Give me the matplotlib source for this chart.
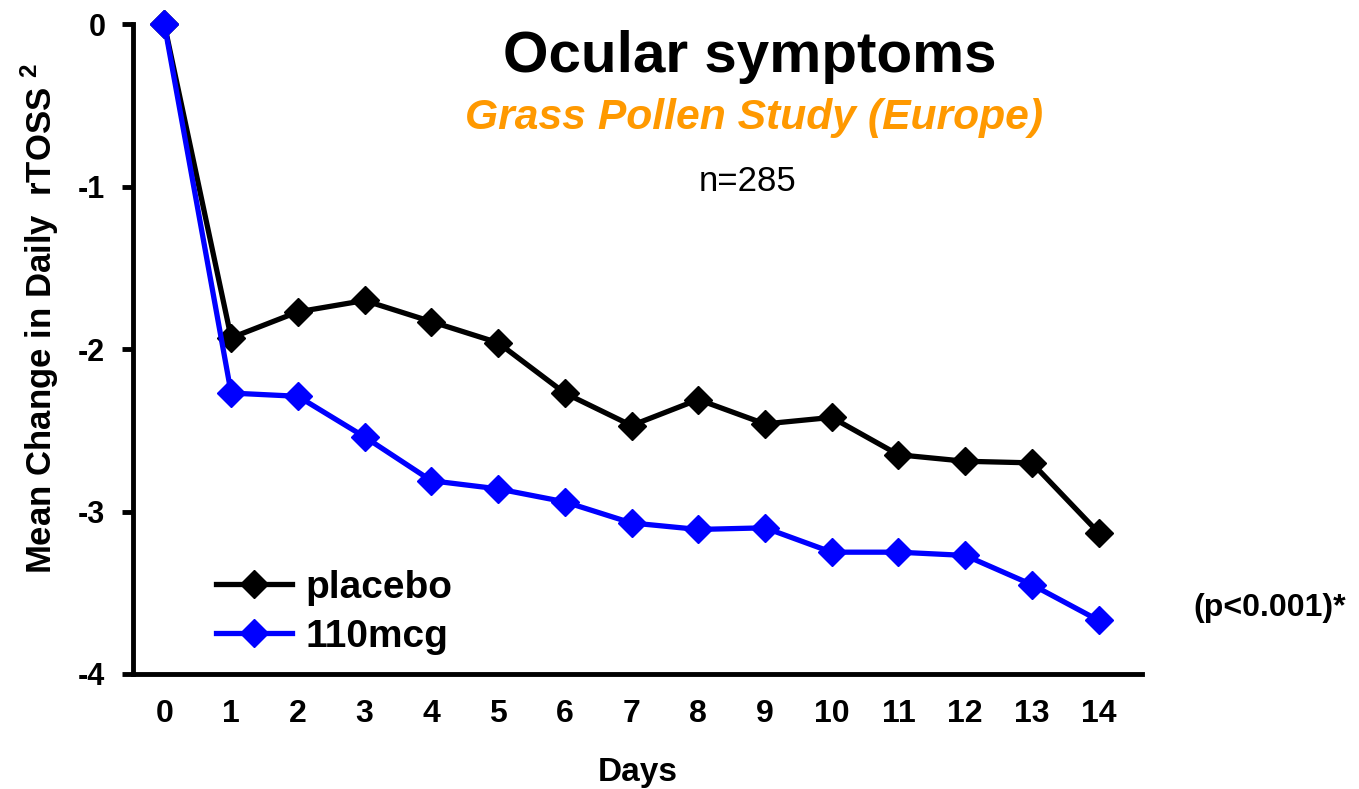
"""Ocular symptoms: mean change in daily rTOSS, grass pollen study (Europe)."""

import matplotlib

matplotlib.use("Agg")

import matplotlib.pyplot as plt

DAYS = list(range(15))
PLACEBO = [0, -1.93, -1.77, -1.70, -1.83, -1.96, -2.27, -2.47, -2.31, -2.46,
           -2.42, -2.65, -2.69, -2.70, -3.13]
DOSE_110 = [0, -2.27, -2.29, -2.54, -2.81, -2.86, -2.94, -3.07, -3.11, -3.10,
            -3.25, -3.25, -3.27, -3.45, -3.67]
Y_TICKS = [0, -1, -2, -3, -4]

plt.rcParams["font.family"] = ["Liberation Sans", "DejaVu Sans"]
plt.rcParams["axes.unicode_minus"] = False
plt.rcParams["mathtext.fontset"] = "custom"
plt.rcParams["mathtext.rm"] = "Liberation Sans"
plt.rcParams["mathtext.bf"] = "Liberation Sans:bold"

fig = plt.figure(figsize=(13.59, 7.89), dpi=100)
ax = fig.add_axes([0.0979, 0.1458, 0.7424, 0.8232])

line_kw = dict(linewidth=3.8, marker="D", markersize=14.5, markeredgewidth=1, clip_on=False)
ax.plot(DAYS, PLACEBO, color="black", label="placebo", zorder=3, **line_kw)
ax.plot(DAYS, DOSE_110, color="#0000ff", label="110mcg", zorder=4, **line_kw)

ax.set_xlim(-0.47, 14.65)
ax.set_ylim(-4, 0)
ax.set_xticks(DAYS)
ax.set_yticks(Y_TICKS)
ax.tick_params(axis="x", length=0, pad=18, labelsize=23)
ax.tick_params(axis="y", length=8, width=3.5, pad=12, labelsize=22)
for lab in ax.get_xticklabels() + ax.get_yticklabels():
    lab.set_fontweight("bold")

for side in ("top", "right"):
    ax.spines[side].set_visible(False)
for side in ("left", "bottom"):
    ax.spines[side].set_linewidth(3.5)

ax.set_xlabel("Days", fontsize=24, fontweight="bold", labelpad=20)
ax.set_ylabel("Mean Change in Daily  rTOSS $^{\\mathbf{2}}$", fontsize=25,
              fontweight="bold")
ax.yaxis.set_label_coords(-0.071, 0.548)

fig.text(0.552, 0.928, "Ocular symptoms", ha="center", va="center",
         fontsize=42, fontweight="bold")
fig.text(0.555, 0.851, "Grass Pollen Study (Europe)", ha="center", va="center",
         fontsize=30.7, fontweight="bold", fontstyle="italic", color="#ff9900")
fig.text(0.550, 0.770, "n=285", ha="center", va="center", fontsize=25)
fig.text(0.934, 0.230, "(p<0.001)*", ha="center", va="center",
         fontsize=23, fontweight="bold")

ax.legend(loc="lower left", bbox_to_anchor=(0.048, -0.024), frameon=False,
          prop=dict(size=28, weight="bold"), handlelength=1.95,
          handletextpad=0.33, labelspacing=0.33)

fig.savefig("out.png", dpi=100)
